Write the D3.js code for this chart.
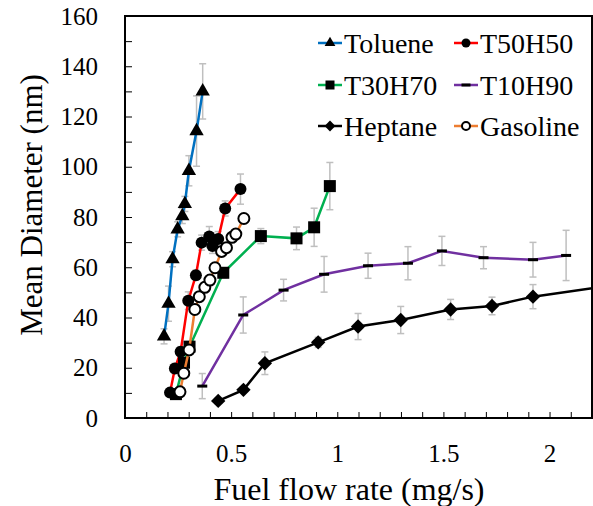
<!DOCTYPE html>
<html>
<head>
<meta charset="utf-8">
<script src="https://cdn.jsdelivr.net/npm/d3@7"></script>
<style>
  body { margin: 0; background: #fff; }
  svg text { font-family: 'Liberation Serif', serif; fill: #000; }
</style>
</head>
<body>
<script>
// Data
const tolueneX = [0.184, 0.205, 0.224, 0.248, 0.270, 0.282, 0.301, 0.337, 0.366]
const tolueneY = [32.5, 45.5, 63.2, 75.1, 80.4, 85.2, 98.4, 114.2, 130.0]
const tolueneErr = [3, 7, 3, 3, 3, 3, 6, 14, 11]

const t50X = [0.212, 0.235, 0.262, 0.298, 0.334, 0.361, 0.397, 0.412, 0.439, 0.472, 0.544]
const t50Y = [10.1, 19.7, 26.4, 46.7, 56.8, 69.8, 72.2, 68.5, 71.2, 83.4, 91.1]
const t50Err = [1.5, 2, 2, 3.5, 2, 3, 4, 3, 3, 3, 6]

const t30X = [0.24, 0.278, 0.304, 0.463, 0.64, 0.808, 0.891, 0.965]
const t30Y = [9.5, 22, 28.4, 57.8, 72.4, 71.5, 75.9, 92.3]
const t30Err = [1, 2, 2, 2, 3, 4.5, 7.6, 9.4]

const t10X = [0.364, 0.557, 0.747, 0.938, 1.145, 1.333, 1.493, 1.689, 1.922, 2.078]
const t10Y = [12.7, 41, 50.9, 57.2, 60.6, 61.6, 66.5, 63.8, 63.0, 64.7]
const t10Err = [5, 7.2, 4.3, 7.1, 5, 6.6, 5.8, 4.4, 6.9, 10]

const heptaneX = [0.439, 0.558, 0.659, 0.91, 1.098, 1.299, 1.534, 1.729, 1.922, 2.35]
const heptaneY = [6.8, 11.2, 21.8, 30.1, 36.4, 39.0, 43.2, 44.6, 48.3, 53.4]
const heptaneErr = [1, 1, 4.5, 2, 5.2, 5.4, 4, 3.5, 4.8, 4]

const gasolineX = [0.259, 0.277, 0.302, 0.329, 0.35, 0.376, 0.4, 0.424, 0.455, 0.478, 0.504, 0.522, 0.56]
const gasolineY = [10.4, 17.8, 27.1, 43.2, 48.3, 52.0, 54.9, 59.8, 66.3, 67.8, 71.9, 73.2, 79.4]
const gasolineErr = [1, 1, 1, 1, 1, 1, 1, 1, 1, 1, 1, 1, 1]

const xTicks = [0, 0.5, 1, 1.5, 2]
const yTicks = [0, 20, 40, 60, 80, 100, 120, 140, 160]

const series = [
  { name: 'Toluene', x: tolueneX, y: tolueneY, err: tolueneErr, color: '#0070c0', marker: 'triangle' },
  { name: 'T50H50', x: t50X, y: t50Y, err: t50Err, color: '#ff0000', marker: 'circle' },
  { name: 'T30H70', x: t30X, y: t30Y, err: t30Err, color: '#00b050', marker: 'square' },
  { name: 'T10H90', x: t10X, y: t10Y, err: t10Err, color: '#7030a0', marker: 'dash' },
  { name: 'Heptane', x: heptaneX, y: heptaneY, err: heptaneErr, color: '#000000', marker: 'diamond' },
  { name: 'Gasoline', x: gasolineX, y: gasolineY, err: gasolineErr, color: '#ed7d31', marker: 'open' }
]

// Layout
const width = 593
const height = 506
const plotLeft = 125
const plotRight = 592
const plotTop = 16
const plotBottom = 418

const x = d3.scaleLinear().domain([0, 2.2]).range([plotLeft, plotRight])
const y = d3.scaleLinear().domain([0, 160]).range([plotBottom, plotTop])

const svg = d3.select('body').append('svg')
  .attr('width', width)
  .attr('height', height)

svg.append('defs').append('clipPath')
  .attr('id', 'plot-clip')
  .append('rect')
  .attr('x', plotLeft)
  .attr('y', plotTop)
  .attr('width', plotRight - plotLeft)
  .attr('height', plotBottom - plotTop)

// Axes (inside ticks)
svg.append('g')
  .attr('transform', `translate(${plotLeft},0)`)
  .call(d3.axisLeft(y).tickValues(d3.range(0, 161, 10)).tickSize(-7).tickPadding(27)
    .tickFormat(d => yTicks.includes(d) ? d : ''))
  .call(g => g.select('.domain').remove())
  .call(g => g.selectAll('line').attr('stroke', '#000'))
  .call(g => g.selectAll('text').style('font-size', '25px'))

svg.append('g')
  .attr('transform', `translate(0,${plotBottom})`)
  .call(d3.axisBottom(x).tickValues(d3.range(0, 22).map(d => d / 10)).tickSize(-6).tickPadding(26)
    .tickFormat(d => xTicks.some(t => Math.abs(t - d) < 1e-9) ? String(+d.toFixed(1)) : ''))
  .call(g => g.select('.domain').remove())
  .call(g => g.selectAll('line').attr('stroke', '#000'))
  .call(g => g.selectAll('text').style('font-size', '25px'))

// Plot border
svg.append('rect')
  .attr('x', plotLeft)
  .attr('y', plotTop)
  .attr('width', plotRight - plotLeft)
  .attr('height', plotBottom - plotTop)
  .attr('fill', 'none')
  .attr('stroke', '#000')
  .attr('stroke-width', 2)

// Axis titles
svg.append('text')
  .attr('x', 349)
  .attr('y', 500)
  .attr('text-anchor', 'middle')
  .style('font-size', '32px')
  .text('Fuel flow rate (mg/s)')

svg.append('text')
  .attr('transform', 'translate(42,205) rotate(-90)')
  .attr('text-anchor', 'middle')
  .style('font-size', '31px')
  .text('Mean Diameter (nm)')

function drawMarker(g, type, size) {
  if (type === 'triangle') {
    g.append('path').attr('d', d3.symbol(d3.symbolTriangle, size * size * 0.62)()).attr('fill', '#000')
  } else if (type === 'circle') {
    g.append('circle').attr('r', size / 2).attr('fill', '#000')
  } else if (type === 'square') {
    g.append('rect').attr('x', -size / 2).attr('y', -size / 2).attr('width', size).attr('height', size).attr('fill', '#000')
  } else if (type === 'diamond') {
    const s = size * 0.6
    g.append('path').attr('d', `M0,${-s}L${s},0L0,${s}L${-s},0Z`).attr('fill', '#000')
  } else if (type === 'dash') {
    g.append('rect').attr('x', -size / 2).attr('y', -1.5).attr('width', size).attr('height', 3).attr('fill', '#000')
  } else if (type === 'open') {
    g.append('circle').attr('r', size / 2 - 0.5).attr('fill', '#fff').attr('stroke', '#000').attr('stroke-width', 2)
  }
}

const plot = svg.append('g').attr('clip-path', 'url(#plot-clip)')

series.forEach(s => {
  const pts = s.x.map((v, i) => ({ x: v, y: s.y[i], e: s.err[i] }))
  const g = plot.append('g')

  // Error bars
  const eb = g.append('g').attr('stroke', '#bfbfbf').attr('stroke-width', 1.5)
  pts.forEach(p => {
    const cx = x(p.x)
    eb.append('line').attr('x1', cx).attr('x2', cx).attr('y1', y(p.y + p.e)).attr('y2', y(p.y - p.e))
    eb.append('line').attr('x1', cx - 3.5).attr('x2', cx + 3.5).attr('y1', y(p.y + p.e)).attr('y2', y(p.y + p.e))
    eb.append('line').attr('x1', cx - 3.5).attr('x2', cx + 3.5).attr('y1', y(p.y - p.e)).attr('y2', y(p.y - p.e))
  })

  // Line
  g.append('path')
    .datum(pts)
    .attr('fill', 'none')
    .attr('stroke', s.color)
    .attr('stroke-width', 2.5)
    .attr('d', d3.line().x(d => x(d.x)).y(d => y(d.y)))

  // Markers
  pts.forEach(p => {
    const m = g.append('g').attr('transform', `translate(${x(p.x)},${y(p.y)})`)
    drawMarker(m, s.marker, s.marker === 'dash' ? 10 : 12)
  })
})

// Legend
const legend = svg.append('g')
const legendCols = [318, 454]
const legendRows = [43, 85, 126]
series.forEach((s, i) => {
  const lx = legendCols[i % 2]
  const ly = legendRows[Math.floor(i / 2)]
  const item = legend.append('g').attr('transform', `translate(${lx},${ly})`)
  item.append('line')
    .attr('x1', 0).attr('x2', 24)
    .attr('stroke', s.color).attr('stroke-width', 2.5)
  const m = item.append('g').attr('transform', 'translate(12,0)')
  drawMarker(m, s.marker, 9)
  item.append('text')
    .attr('x', 26)
    .attr('dy', '0.35em')
    .style('font-size', '28px')
    .text(s.name)
})
</script>
</body>
</html>
